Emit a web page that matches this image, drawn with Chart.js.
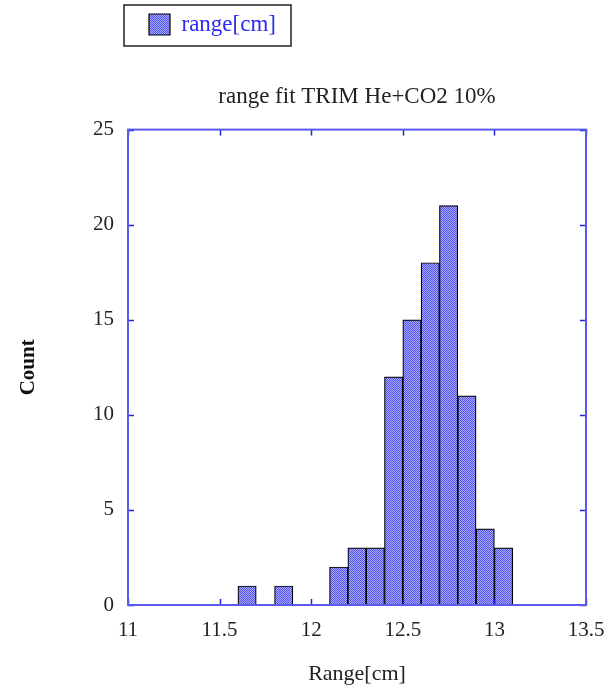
<!DOCTYPE html>
<html>
<head>
<meta charset="utf-8">
<script src="https://cdn.jsdelivr.net/npm/chart.js@4.4.1/dist/chart.umd.min.js"></script>
<style>
  html, body { margin: 0; padding: 0; background: #ffffff; }
  #wrap { position: relative; width: 609px; height: 691px; }
</style>
</head>
<body>
<div id="wrap"><canvas id="c" width="609" height="691"></canvas></div>
<script>
// ---- data ----
const binCenters = [11.65, 11.85, 12.15, 12.25, 12.35, 12.45, 12.55, 12.65, 12.75, 12.85, 12.95, 13.05];
const counts     = [1, 1, 2, 3, 3, 12, 15, 18, 21, 11, 4, 3];
const xTickValues = [11, 11.5, 12, 12.5, 13, 13.5];
const yTickValues = [0, 5, 10, 15, 20, 25];
const seriesLabel = 'range[cm]';
const chartTitle = 'range fit TRIM He+CO2 10%';
const xAxisTitle = 'Range[cm]';
const yAxisTitle = 'Count';

// ---- styles ----
const FRAME = '#5a5af0';
const TICK = '#2020dd';
const SERIF = '"Liberation Serif", "DejaVu Serif", serif';

function makePattern() {
  const p = document.createElement('canvas');
  p.width = 2; p.height = 2;
  const g = p.getContext('2d');
  g.fillStyle = '#5555ee'; g.fillRect(0, 0, 2, 2);
  g.fillStyle = '#a8a8ff'; g.fillRect(1, 0, 1, 1); g.fillRect(0, 1, 1, 1);
  return document.getElementById('c').getContext('2d').createPattern(p, 'repeat');
}
const barFill = makePattern();

const points = binCenters.map((x, i) => ({ x: x, y: counts[i] }));

const framePlugin = {
  id: 'frameTicks',
  beforeDraw(chart) {
    const lg = chart.legend;
    if (lg) { lg.left = 136; }
  },
  afterDraw(chart) {
    const { ctx, chartArea: a, scales } = chart;
    ctx.save();
    // inward ticks
    ctx.strokeStyle = TICK;
    ctx.lineWidth = 1.5;
    const tl = 6;
    xTickValues.forEach(v => {
      const px = Math.round(scales.x.getPixelForValue(v)) + 0.5;
      ctx.beginPath();
      ctx.moveTo(px, a.bottom); ctx.lineTo(px, a.bottom - tl);
      ctx.moveTo(px, a.top); ctx.lineTo(px, a.top + tl);
      ctx.stroke();
    });
    yTickValues.forEach(v => {
      const py = Math.round(scales.y.getPixelForValue(v)) + 0.5;
      ctx.beginPath();
      ctx.moveTo(a.left, py); ctx.lineTo(a.left + tl, py);
      ctx.moveTo(a.right, py); ctx.lineTo(a.right - tl, py);
      ctx.stroke();
    });
    // frame
    ctx.strokeStyle = FRAME;
    ctx.lineWidth = 2;
    ctx.strokeRect(a.left, a.top, a.right - a.left, a.bottom - a.top);
    // legend border
    const lg = chart.legend;
    if (lg && lg.legendItems && lg.legendItems.length) {
      const lab = lg.options.labels;
      const fs = lab.font.size;
      ctx.font = fs + 'px ' + SERIF;
      const tw = ctx.measureText(lg.legendItems[0].text).width;
      const boxX = lg.left + lab.padding;
      const left = boxX - 25;
      const right = boxX + lab.boxWidth + fs / 2 + tw + 15;
      ctx.strokeStyle = '#222222';
      ctx.lineWidth = 1.5;
      ctx.strokeRect(left, lg.top + 5, right - left, 41);
    }
    ctx.restore();
  }
};

new Chart(document.getElementById('c'), {
  type: 'bar',
  data: {
    datasets: [{
      label: seriesLabel,
      data: points,
      backgroundColor: barFill,
      borderColor: '#000000',
      borderWidth: 1.2,
      borderSkipped: 'start',
      barPercentage: 1,
      categoryPercentage: 1
    }]
  },
  options: {
    responsive: false,
    animation: false,
    devicePixelRatio: 1,
    layout: { padding: { left: 0, right: 23, top: 0, bottom: 0 } },
    plugins: {
      legend: {
        display: true,
        position: 'top',
        align: 'start',
        fullSize: false,
        weight: 3000,
        labels: {
          color: '#2a2af0',
          font: { family: SERIF, size: 23 },
          boxWidth: 21,
          boxHeight: 21,
          padding: 13
        }
      },
      title: {
        display: true,
        text: chartTitle,
        fullSize: false,
        weight: 500,
        color: '#222222',
        font: { family: SERIF, size: 23, weight: 'normal' },
        padding: { top: 37, bottom: 19 }
      },
      tooltip: { enabled: false }
    },
    scales: {
      x: {
        type: 'linear',
        min: 11,
        max: 13.5,
        offset: false,
        grid: { display: false, drawTicks: false },
        border: { display: false },
        afterBuildTicks: (s) => { s.ticks = xTickValues.map(v => ({ value: v })); },
        ticks: {
          color: '#222222',
          font: { family: SERIF, size: 21 },
          padding: 13,
          maxRotation: 0,
          autoSkip: false,
          callback: (v) => String(v)
        },
        title: {
          display: true,
          text: xAxisTitle,
          color: '#222222',
          font: { family: SERIF, size: 22 },
          padding: { top: 0, bottom: 4 }
        },
        afterFit: (s) => { s.height = 86; s.paddingLeft = 0; s.paddingRight = 0; }
      },
      y: {
        type: 'linear',
        min: 0,
        max: 25,
        grid: { display: false, drawTicks: false },
        border: { display: false },
        afterBuildTicks: (s) => { s.ticks = yTickValues.map(v => ({ value: v })); },
        ticks: {
          color: '#222222',
          font: { family: SERIF, size: 21 },
          padding: 14,
          callback: (v) => String(v)
        },
        title: {
          display: true,
          text: yAxisTitle,
          color: '#111111',
          font: { family: SERIF, size: 21, weight: 'bold' },
          padding: { top: 16, bottom: 0 }
        },
        afterFit: (s) => { s.width = 128; s.paddingTop = 0; s.paddingBottom = 0; }
      }
    }
  },
  plugins: [framePlugin]
});
</script>
</body>
</html>
